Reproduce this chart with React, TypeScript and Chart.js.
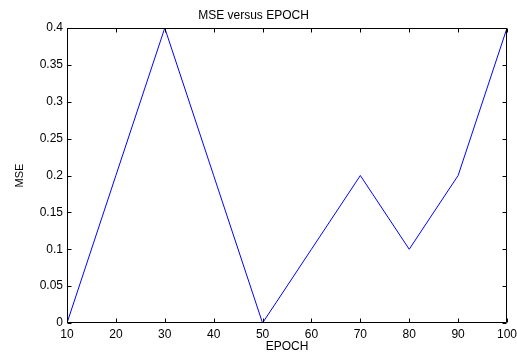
import React, { useEffect, useRef } from "react";
import { Chart, registerables } from "chart.js";

Chart.register(...registerables);

const epochs = [10, 20, 30, 40, 50, 60, 70, 80, 90, 100];
const mse = [0, 0.2, 0.4, 0.2, 0, 0.1, 0.2, 0.1, 0.2, 0.4];
const yTickValues = [0, 0.05, 0.1, 0.15, 0.2, 0.25, 0.3, 0.35, 0.4];
const xTickValues = [10, 20, 30, 40, 50, 60, 70, 80, 90, 100];
const titleText = "MSE versus EPOCH";
const xLabel = "EPOCH";
const yLabel = "MSE";

const FONT = "'Liberation Sans', Arial, sans-serif";

const boxPlugin = {
  id: "matlabBox",
  afterDraw(chart: any) {
    const { ctx, chartArea } = chart;
    const xs = chart.scales.x;
    const ys = chart.scales.y;
    const L = Math.round(chartArea.left) + 0.5;
    const R = Math.round(chartArea.right) - 0.5;
    const T = Math.round(chartArea.top) + 0.5;
    const B = Math.round(chartArea.bottom) - 0.5;
    const tl = 4;
    ctx.save();
    ctx.strokeStyle = "#000";
    ctx.lineWidth = 1;
    ctx.beginPath();
    ctx.rect(L, T, R - L, B - T);
    for (const v of xTickValues) {
      const px = Math.round(xs.getPixelForValue(v)) + 0.5;
      ctx.moveTo(px, B);
      ctx.lineTo(px, B - tl);
      ctx.moveTo(px, T);
      ctx.lineTo(px, T + tl);
    }
    for (const v of yTickValues) {
      const py = Math.round(ys.getPixelForValue(v)) + 0.5;
      ctx.moveTo(L, py);
      ctx.lineTo(L + tl, py);
      ctx.moveTo(R, py);
      ctx.lineTo(R - tl, py);
    }
    ctx.stroke();
    ctx.restore();
  },
};

export default function App() {
  const ref = useRef<HTMLCanvasElement>(null);
  useEffect(() => {
    if (!ref.current) return;
    const chart = new Chart(ref.current, {
      type: "line",
      data: {
        labels: epochs,
        datasets: [
          {
            data: epochs.map((e, i) => ({ x: e, y: mse[i] })),
            borderColor: "#0000ff",
            borderWidth: 1,
            pointRadius: 0,
            fill: false,
            tension: 0,
          },
        ],
      },
      options: {
        animation: false,
        responsive: false,
        maintainAspectRatio: false,
        layout: { padding: { left: 0, right: 10, top: 0, bottom: 0 } },
        plugins: {
          legend: { display: false },
          tooltip: { enabled: false },
          title: {
            display: true,
            text: titleText,
            color: "#000",
            font: { family: FONT, size: 12, weight: "normal" },
            padding: { top: 8, bottom: 5.6 },
          },
        },
        scales: {
          x: {
            type: "linear",
            min: 10,
            max: 100,
            afterBuildTicks: (s: any) => {
              s.ticks = xTickValues.map((v) => ({ value: v }));
            },
            afterFit: (s: any) => {
              s.height = 29;
              s.paddingLeft = 0;
              s.paddingRight = 0;
            },
            grid: { display: false, drawTicks: false },
            border: { display: false },
            ticks: {
              color: "#000",
              font: { family: FONT, size: 12 },
              padding: 4,
              maxRotation: 0,
              autoSkip: false,
            },
            title: {
              display: true,
              text: xLabel,
              color: "#000",
              font: { family: FONT, size: 12 },
              padding: { top: 0, bottom: -2 },
            },
          },
          y: {
            type: "linear",
            min: 0,
            max: 0.4,
            afterBuildTicks: (s: any) => {
              s.ticks = yTickValues.map((v) => ({ value: v }));
            },
            afterFit: (s: any) => {
              s.width = 67;
            },
            grid: { display: false, drawTicks: false },
            border: { display: false },
            ticks: {
              color: "#000",
              font: { family: FONT, size: 12 },
              padding: 4,
              autoSkip: false,
              callback: (v: any) => String(Number(v).toFixed(2)).replace(/\.?0+$/, ""),
            },
            title: {
              display: true,
              text: yLabel,
              color: "#000",
              font: { family: FONT, size: 11 },
              padding: { top: 13, bottom: 0 },
            },
          },
        },
      },
      plugins: [boxPlugin],
    } as any);
    return () => chart.destroy();
  }, []);
  return (
    <div style={{ position: "fixed", left: 0, top: 0, width: 517, height: 352, background: "#fff" }}>
      <canvas ref={ref} width={517} height={352} style={{ width: 517, height: 352 }} />
    </div>
  );
}
